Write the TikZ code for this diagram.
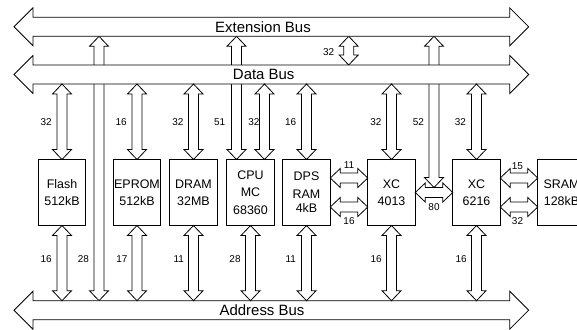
\documentclass[tikz,border=0pt]{standalone}
\usepackage{fontspec}
\setmainfont{Liberation Sans}
\usetikzlibrary{calc}

\tikzset{
  blk/.style={draw=black, fill=white, line width=0.8bp, line join=miter},
  % vertical block arrow with two heads, drawn from the upper point to the lower one
  vdbl/.style={to path={let \p1=(\tikztostart), \p2=(\tikztotarget) in
     -- (\x1+9.5bp,\y1-10bp) -- (\x1+5bp,\y1-10bp) -- (\x1+5bp,\y2+10bp)
     -- (\x1+9.5bp,\y2+10bp) -- (\x1,\y2) -- (\x1-9.5bp,\y2+10bp)
     -- (\x1-5bp,\y2+10bp) -- (\x1-5bp,\y1-10bp) -- (\x1-9.5bp,\y1-10bp) -- cycle}},
  % horizontal block arrow with two heads, drawn from the left point to the right one
  hdbl/.style={to path={let \p1=(\tikztostart), \p2=(\tikztotarget) in
     -- (\x1+10bp,\y1+9.5bp) -- (\x1+10bp,\y1+5bp) -- (\x2-10bp,\y1+5bp)
     -- (\x2-10bp,\y1+9.5bp) -- (\x2,\y1) -- (\x2-10bp,\y1-9.5bp)
     -- (\x2-10bp,\y1-5bp) -- (\x1+10bp,\y1-5bp) -- (\x1+10bp,\y1-9.5bp) -- cycle}},
  % wide bus arrow
  hbus/.style={to path={let \p1=(\tikztostart), \p2=(\tikztotarget) in
     -- (\x1+19bp,\y1+19bp) -- (\x1+19bp,\y1+9.5bp) -- (\x2-19bp,\y1+9.5bp)
     -- (\x2-19bp,\y1+19bp) -- (\x2,\y1) -- (\x2-19bp,\y1-19bp)
     -- (\x2-19bp,\y1-9.5bp) -- (\x1+19bp,\y1-9.5bp) -- (\x1+19bp,\y1-19bp) -- cycle}},
  busbody/.style={minimum width=476.7bp, minimum height=19bp, inner sep=0pt, outer sep=0pt},
  buslabel/.style={inner sep=0pt, font=\fontsize{15}{18}\selectfont},
  box/.style={draw=black, fill=white, line width=0.8bp, minimum width=47.5bp,
     minimum height=66bp, inner sep=0pt, outer sep=0pt, align=center,
     font=\fontsize{12.5}{17.5}\selectfont},
  num/.style={inner sep=0pt, font=\fontsize{10}{12}\selectfont},
}

\begin{document}
\begin{tikzpicture}[x=1bp, y=-1bp]
\useasboundingbox (0,0) rectangle (577,329);
\clip (0,0) rectangle (577,329);

% bus bodies (positions and anchors)
\node[busbody] (extbus)  at (271.35,26.8) {};
\node[busbody] (databus) at (271.35,74.5) {};
\node[busbody] (addrbus) at (271.35,310.2) {};

% modules
\node[box] (flash) at (62,192.5)    {Flash\\512kB};
\node[box] (eprom) at (137,192.5)   {EPROM\\512kB};
\node[box] (dram)  at (193.5,192.5) {DRAM\\32MB};
\node[box] (cpu)   at (250.5,192.5) {CPU\\MC\\68360};
\node[box] (dps)   at (306.5,192.5) {DPS\\RAM\\[-3bp]4kB};
\node[box] (xca)   at (391.5,192.5) {XC\\4013};
\node[box] (xcb)   at (476.5,192.5) {XC\\6216};
\node[box] (sram)  at (561.5,192.5) {SRAM\\128kB};

\coordinate (c28) at (99,0);
\coordinate (c32) at (348.7,0);
\coordinate (j80) at ($(xca.east)!0.5!(xcb.west)$);

% long links from the extension bus, passing behind the data bus
\draw[blk] (c28 |- extbus.south) to[vdbl] (c28 |- addrbus.north);
\draw[blk] ([xshift=-14bp]cpu.north |- extbus.south) to[vdbl] ([xshift=-14bp]cpu.north);
\draw[blk] (j80 |- extbus.south) to[vdbl] ([yshift=5bp]j80);
\draw[blk] (c32 |- extbus.south) to[vdbl] (c32 |- databus.north);

% buses
\draw[blk] ([xshift=-19bp]extbus.west)  to[hbus] ([xshift=19bp]extbus.east);
\draw[blk] ([xshift=-19bp]databus.west) to[hbus] ([xshift=19bp]databus.east);
\draw[blk] ([xshift=-19bp]addrbus.west) to[hbus] ([xshift=19bp]addrbus.east);
\node[buslabel] (lext)  at (263,26.8)  {Extension Bus};
\node[buslabel] (ldata) at (263.7,74.5) {Data Bus};
\node[buslabel] (laddr) at (262,310.2) {Address Bus};

% data bus links
\foreach \m in {flash,eprom,dram,dps,xca,xcb}
  \draw[blk] (\m.north |- databus.south) to[vdbl] (\m.north);
\draw[blk] ([xshift=14bp]cpu.north |- databus.south) to[vdbl] ([xshift=14bp]cpu.north);

% address bus links
\foreach \m in {flash,eprom,dram,cpu,dps,xca,xcb}
  \draw[blk] (\m.south) to[vdbl] (\m.south |- addrbus.north);

% links between modules
\draw[blk] ([yshift=14.5bp]dps.east)  to[hdbl] ([yshift=14.5bp]xca.west);
\draw[blk] ([yshift=-14.5bp]dps.east) to[hdbl] ([yshift=-14.5bp]xca.west);
\draw[blk] (xca.east) to[hdbl] (xcb.west);
\draw[blk] ([yshift=14.5bp]xcb.east)  to[hdbl] ([yshift=14.5bp]sram.west);
\draw[blk] ([yshift=-14.5bp]xcb.east) to[hdbl] ([yshift=-14.5bp]sram.west);

% bus widths
\node[num] (w1) at (46.2,122.5)  {32};
\node[num] (w2) at (121.2,122.5) {16};
\node[num] (w3) at (177.8,122.5) {32};
\node[num] (w4) at (219.7,122.5) {51};
\node[num] (w5) at (253.8,122.5) {32};
\node[num] (w6) at (290.6,122.5) {16};
\node[num] (w7) at (375.8,122.5) {32};
\node[num] (w8) at (418.3,122.5) {52};
\node[num] (w9) at (460.3,122.5) {32};
\node[num] (w10) at (328.7,52.3) {32};

\node[num] (v1) at (46.2,259.2)  {16};
\node[num] (v2) at (83.5,259.2)  {28};
\node[num] (v3) at (121.8,259.2) {17};
\node[num] (v4) at (178.7,259.2) {11};
\node[num] (v5) at (235,259.2)   {28};
\node[num] (v6) at (290.7,259.2) {11};
\node[num] (v7) at (376.2,259.2) {16};
\node[num] (v8) at (461.2,259.2) {16};

\node[num] (h1) at (349,165)    {11};
\node[num] (h2) at (349,221.5)  {16};
\node[num] (h3) at (434,206.7)  {80};
\node[num] (h4) at (517.3,166)  {15};
\node[num] (h5) at (517.5,221.5) {32};
\end{tikzpicture}
\end{document}
